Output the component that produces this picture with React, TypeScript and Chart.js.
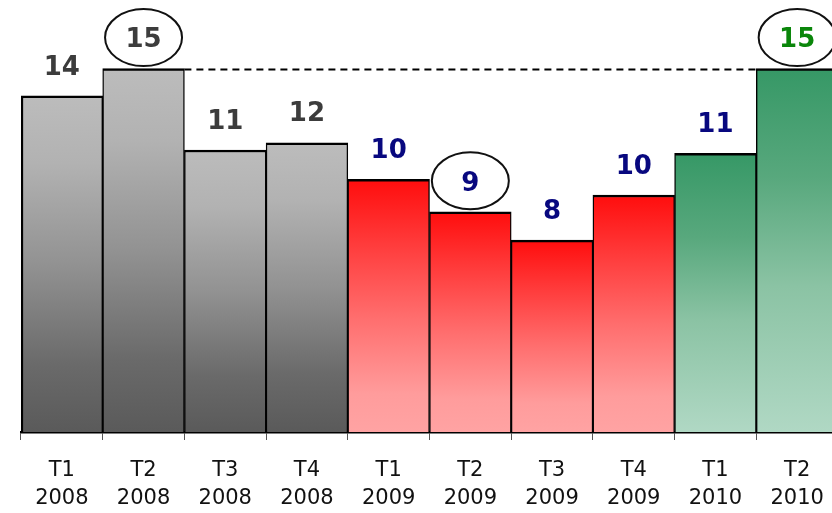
import React, { useEffect, useRef } from "react";
import { Chart, registerables } from "chart.js";

Chart.register(...registerables);

const categories: string[][] = [
  ["T1", "2008"], ["T2", "2008"], ["T3", "2008"], ["T4", "2008"],
  ["T1", "2009"], ["T2", "2009"], ["T3", "2009"], ["T4", "2009"],
  ["T1", "2010"], ["T2", "2010"],
];
const values: number[] = [13.87, 15, 11.64, 11.94, 10.43, 9.09, 7.92, 9.78, 11.5, 15];
const valueLabels: string[] = ["14", "15", "11", "12", "10", "9", "8", "10", "11", "15"];
const groups: string[] = ["gray", "gray", "gray", "gray", "red", "red", "red", "red", "green", "green"];
const circled: number[] = [1, 5, 9];
const referenceIndex = 1;
const referenceEndIndex = 9;

const gradientStops: Record<string, [number, string][]> = {
  gray: [[0, "#bcbcbc"], [0.2, "#b2b2b2"], [0.5, "#929292"], [0.8, "#6a6a6a"], [1, "#5a5a5a"]],
  red: [[0, "#ff0d0d"], [0.25, "#ff3a3a"], [0.55, "#ff6e6e"], [0.85, "#ff9c9c"], [1, "#ffa3a3"]],
  green: [[0, "#369866"], [0.3, "#58a87d"], [0.6, "#8bc3a4"], [1, "#b0d8c4"]],
};
const labelColors: Record<string, string> = {
  gray: "#3c3c3c",
  red: "#08087f",
  green: "#08087f",
};
const lastLabelColor = "#0a860a";

const overlayPlugin = {
  id: "overlay",
  afterDatasetsDraw(chart: any) {
    const meta = chart.getDatasetMeta(0);
    const c = chart.ctx;
    c.save();
    // dashed reference line
    const a = meta.data[referenceIndex];
    const b = meta.data[referenceEndIndex];
    c.setLineDash([7, 5]);
    c.strokeStyle = "#000";
    c.lineWidth = 2;
    c.beginPath();
    c.moveTo(a.x + a.width / 2, a.y + 1);
    c.lineTo(b.x - b.width / 2, a.y + 1);
    c.stroke();
    c.setLineDash([]);
    // labels
    c.font = "900 26px 'DejaVu Sans'";
    c.textAlign = "center";
    c.textBaseline = "middle";
    meta.data.forEach((el: any, i: number) => {
      const g = groups[i];
      const col = i === values.length - 1 ? lastLabelColor : labelColors[g];
      c.fillStyle = col;
      c.fillText(valueLabels[i], el.x, el.y - 28);
      if (circled.includes(i)) {
        c.strokeStyle = "#111";
        c.lineWidth = 2;
        c.beginPath();
        c.ellipse(el.x, el.y - 31, 38.5, 28.5, 0, 0, Math.PI * 2);
        c.stroke();
      }
    });
    c.restore();
  },
};

export default function App() {
  const ref = useRef<HTMLCanvasElement | null>(null);
  useEffect(() => {
    if (!ref.current) return;
    const chart = new Chart(ref.current, {
      type: "bar",
      data: {
        labels: categories,
        datasets: [
          {
            data: values,
            backgroundColor: (ctx: any) => {
              const chart = ctx.chart;
              const i = ctx.dataIndex;
              if (i === undefined || !chart.chartArea || !chart.scales.y) return "#999";
              const ys = chart.scales.y;
              const top = ys.getPixelForValue(values[i]);
              const bottom = ys.getPixelForValue(0);
              const grad = chart.ctx.createLinearGradient(0, top, 0, bottom);
              gradientStops[groups[i]].forEach(([o, col]) => grad.addColorStop(o, col));
              return grad;
            },
            borderColor: "#000",
            borderWidth: (ctx: any) => ({
              top: 2.5,
              left: ctx.dataIndex === 0 ? 2.5 : 1.4,
              right: 1.4,
              bottom: 0,
            }),
            borderSkipped: false,
            categoryPercentage: 1,
            barPercentage: 1,
          } as any,
        ],
      },
      options: {
        responsive: false,
        animation: false,
        layout: { padding: { left: 21, right: 12, top: 8, bottom: 0 } },
        plugins: {
          legend: { display: false },
          tooltip: { enabled: false },
        },
        scales: {
          x: {
            grid: {
              display: true,
              drawOnChartArea: false,
              drawTicks: true,
              tickLength: 8,
              color: "#555",
              lineWidth: 1,
              offset: true,
            },
            border: { display: true, color: "#000", width: 2.5 },
            ticks: {
              color: "#111",
              font: { family: "'DejaVu Sans'", size: 21, lineHeight: 1.36 },
              padding: 16,
              maxRotation: 0,
              autoSkip: false,
            },
            afterFit: (s: any) => {
              s.height = 81;
            },
          },
          y: {
            display: false,
            min: 0,
            max: 17.5,
          },
        },
      },
      plugins: [overlayPlugin],
    } as any);
    return () => chart.destroy();
  }, []);
  return (
    <div
      style={{
        position: "fixed",
        left: 0,
        top: 0,
        width: 832,
        height: 513,
        overflow: "hidden",
        background: "#fff",
      }}
    >
      <canvas ref={ref} width={850} height={513} style={{ display: "block" }} />
    </div>
  );
}
